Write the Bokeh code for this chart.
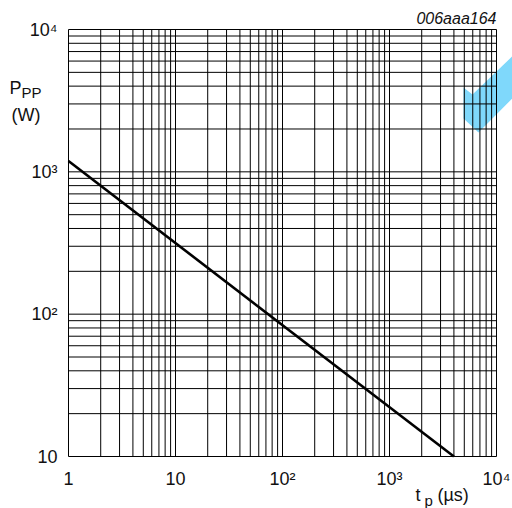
from bokeh.embed import file_html
from bokeh.resources import INLINE
from bokeh.models import Range1d, FixedTicker, Label, PolyAnnotation, LogAxis
from bokeh.plotting import figure

x_limits = [1, 10000]
y_limits = [10, 10000]
grid_x_ticks = [m * 10**e for e in range(0, 4) for m in range(1, 10)] + [10000]
grid_y_ticks = [m * 10**e for e in range(1, 4) for m in range(1, 10)] + [10000]
curve_tp = [1, 4000]
curve_ppp = [1190, 10]
x_tick_values = [1, 10, 100, 1000, 10000]
x_tick_labels = ["1", "10", "10\u00b2", "10\u00b3", "10\u2074"]
y_tick_values = [10, 100, 1000, 10000]
y_tick_labels = ["10", "10\u00b2", "10\u00b3", "10\u2074"]

FONT = "Liberation Sans"
INK = "#111111"
W, H = 512, 508
# Plot box inside the canvas: the frame fills the canvas so outer texts are not clipped
BOX_L, BOX_R, BOX_T, BOX_B = 68, 496, 29, 456
per_x = (BOX_R - BOX_L) / 4
per_y = (BOX_B - BOX_T) / 3

p = figure(width=W, height=H, output_backend="svg", toolbar_location=None,
           x_axis_type="log", y_axis_type="log",
           x_range=Range1d(10 ** (-BOX_L / per_x), 10 ** ((W - BOX_L) / per_x)),
           y_range=Range1d(10 ** (1 - (H - BOX_B) / per_y), 10 ** (4 + BOX_T / per_y)),
           min_border_left=0, min_border_right=0, min_border_top=0, min_border_bottom=0,
           background_fill_color=None, border_fill_color=None, outline_line_color=None)
p.xaxis.visible = False
p.yaxis.visible = False
p.xgrid.visible = False
p.ygrid.visible = False

p.add_layout(PolyAnnotation(xs=[4916, 5966, 14290, 14290, 6790, 4916],
                            ys=[3913, 3491, 6561, 3327, 1888, 2371],
                            xs_units="data", ys_units="data",
                            fill_color="#7fd8fb", fill_alpha=1, line_color=None, level="image"))

p.multi_line([[v, v] for v in grid_x_ticks], [y_limits for _ in grid_x_ticks], line_color="black", line_width=1)
p.multi_line([x_limits for _ in grid_y_ticks], [[v, v] for v in grid_y_ticks], line_color="black", line_width=1)
p.line(curve_tp, curve_ppp, line_color="black", line_width=2.6)

xax = LogAxis(ticker=FixedTicker(ticks=x_tick_values),
              major_label_overrides=dict(zip(x_tick_values, x_tick_labels)),
              fixed_location=y_limits[0], axis_line_color=None,
              major_tick_line_color=None, minor_tick_line_color=None,
              major_label_standoff=6, major_label_text_font=FONT,
              major_label_text_font_size="18px", major_label_text_color=INK)
yax = LogAxis(ticker=FixedTicker(ticks=y_tick_values),
              major_label_overrides=dict(zip(y_tick_values, y_tick_labels)),
              fixed_location=x_limits[0], axis_line_color=None,
              major_tick_line_color=None, minor_tick_line_color=None,
              major_label_standoff=5, major_label_text_font=FONT,
              major_label_text_font_size="18px", major_label_text_color=INK)
p.add_layout(xax, "below")
p.add_layout(yax, "left")


def lab(text, x, y, size=18, align="left", style="normal"):
    p.add_layout(Label(x=x, y=H - y, x_units="screen", y_units="screen", text=text,
                       text_font=FONT, text_font_size=f"{size}px", text_color=INK,
                       text_align=align, text_baseline="alphabetic", text_font_style=style))


lab("006aaa164", 496, 18, size=16, align="right", style="italic")
lab("P", 9, 87)
lab("PP", 21, 92, size=15)
lab("(W)", 11, 114)
lab("t", 415, 494)
lab("p", 424, 500, size=15)
lab("(\u00b5s)", 437, 494)

open("out.html", "w").write(file_html(p, INLINE))
